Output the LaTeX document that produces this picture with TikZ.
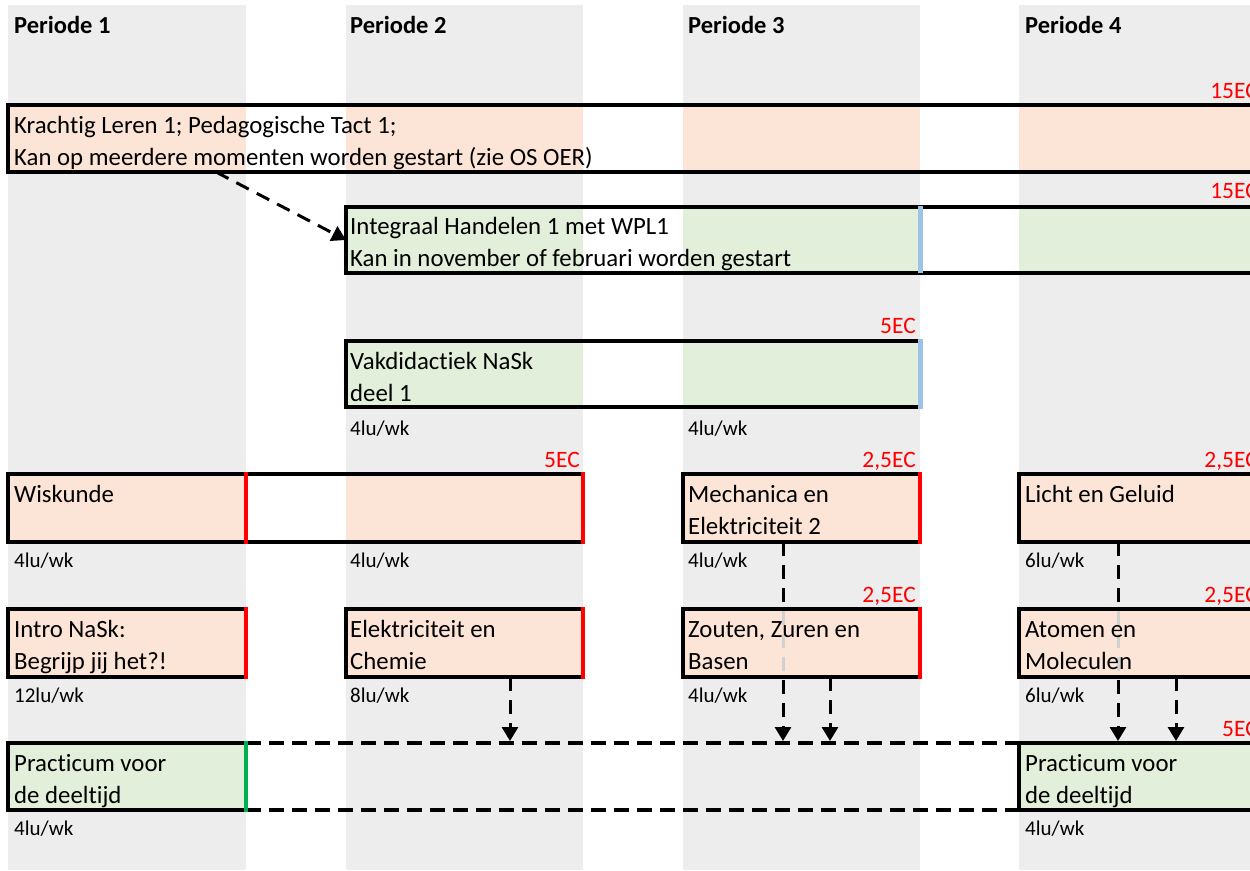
\documentclass[tikz,border=0pt]{standalone}
\usepackage{fontspec}
\setmainfont{Carlito}[Ligatures=NoCommon]
\usetikzlibrary{arrows.meta}
\definecolor{colgrey}{HTML}{EDEDED}
\definecolor{peach}{HTML}{FCE4D6}
\definecolor{lgreen}{HTML}{E2EFDA}
\definecolor{ecred}{HTML}{FF0000}
\definecolor{lblue}{HTML}{9DC3E6}
\definecolor{dgreen}{HTML}{00B050}
\begin{document}
\begin{tikzpicture}[x=1pt,y=-1pt,
  boxframe/.style={draw=black,line width=4pt,rectangle,inner sep=0pt,outer sep=0pt,anchor=north west},
  hdr/.style={anchor=base west,inner sep=0pt,font=\fontsize{24.5}{28}\selectfont\bfseries},
  txt/.style={anchor=base west,inner sep=0pt,font=\fontsize{24.8}{28}\selectfont},
  small/.style={anchor=base west,inner sep=0pt,font=\fontsize{21}{24}\selectfont},
  ec/.style={anchor=base east,inner sep=0pt,text=ecred,font=\fontsize{23.5}{26}\selectfont},
  dashline/.style={line width=3.5pt,dash pattern=on 15pt off 8pt},
  darr/.style={line width=3pt,dash pattern=on 14pt off 9pt,-{Triangle[width=16pt,length=14pt]}},
  redbar/.style={line width=4pt,draw=ecred},
]
\useasboundingbox (0,0) rectangle (1250,870);
\clip (0,0) rectangle (1250,870);
% grey columns
\foreach \a/\b in {8/246,346/583,683/920,1019/1262}
  \fill[colgrey] (\a,5) rectangle (\b,870);
% headers
\node[hdr] (h1) at (14,33) {Periode 1};
\node[hdr] (h2) at (350,33) {Periode 2};
\node[hdr] (h3) at (688,33) {Periode 3};
\node[hdr] (h4) at (1025,33) {Periode 4};

% ---------- fills -------------
% Krachtig
\fill[white] (8,105) rectangle (1262,172);
\foreach \a/\b in {8/246,346/583,683/920,1019/1262}
  \fill[peach] (\a,105) rectangle (\b,172);
% Integraal
\fill[white] (346,206.5) rectangle (1262,272.5);
\foreach \a/\b in {346/583,683/920,1019/1262}
  \fill[lgreen] (\a,206.5) rectangle (\b,272.5);
% Vakdidactiek
\fill[white] (346,341) rectangle (920,407);
\foreach \a/\b in {346/583,683/920}
  \fill[lgreen] (\a,341) rectangle (\b,407);
% Wiskunde
\fill[white] (8,474) rectangle (583,542);
\foreach \a/\b in {8/246,346/583}
  \fill[peach] (\a,474) rectangle (\b,542);
% other peach boxes
\fill[peach] (683,474) rectangle (920,542);
\fill[peach] (1019,474) rectangle (1262,542);
\fill[peach] (8,609) rectangle (246,677);
\fill[peach] (346,609) rectangle (583,677);
% practicum
\fill[lgreen] (8,743) rectangle (246,810);
\fill[lgreen] (1019,743) rectangle (1262,810);

% ---------- arrows that pass behind boxes -------------
\coordinate (t2) at (783,741);
\coordinate (t4) at (1118,741);
\draw[darr] (783,542) -- (t2);
\draw[darr] (1118,542) -- (t4);
% box fill over them, then a faint trace
\fill[peach] (683,609) rectangle (920,677);
\fill[peach] (1019,609) rectangle (1262,677);
\begin{scope}
  \clip (683,609) rectangle (1262,677);
  \draw[line width=3pt,dash pattern=on 14pt off 9pt,draw=black!18] (783,542) -- (783,728);
  \draw[line width=3pt,dash pattern=on 14pt off 9pt,draw=black!18] (1118,542) -- (1118,728);
\end{scope}

% ---------- frames -------------
\node[boxframe,minimum width=1254pt,minimum height=67pt] (kl) at (8,105) {};
\node[boxframe,minimum width=916pt,minimum height=66pt] (ih) at (346,206.5) {};
\node[boxframe,minimum width=574pt,minimum height=66pt] (vd) at (346,341) {};
\node[boxframe,minimum width=575pt,minimum height=68pt] (wi) at (8,474) {};
\node[boxframe,minimum width=237pt,minimum height=68pt] (me) at (683,474) {};
\node[boxframe,minimum width=243pt,minimum height=68pt] (lg) at (1019,474) {};
\node[boxframe,minimum width=238pt,minimum height=68pt] (in) at (8,609) {};
\node[boxframe,minimum width=237pt,minimum height=68pt] (ec) at (346,609) {};
\node[boxframe,minimum width=237pt,minimum height=68pt] (zo) at (683,609) {};
\node[boxframe,minimum width=243pt,minimum height=68pt] (at) at (1019,609) {};
\node[boxframe,minimum width=238pt,minimum height=67pt] (p1) at (8,743) {};
\node[boxframe,minimum width=243pt,minimum height=67pt] (p4) at (1019,743) {};
% dashed continuation of practicum
\draw[dashline] (p1.north east) -- (p4.north west);
\draw[dashline] (p1.south east) -- (p4.south west);

% coloured bars
\draw[line width=5pt,draw=lblue] (920,206) -- (920,273);
\draw[line width=5pt,draw=lblue] (920,339) -- (920,409);
\draw[redbar] (246,472) -- (246,544);
\draw[redbar] (583,472) -- (583,544);
\draw[redbar] (920,472) -- (920,544);
\draw[redbar] (246,607) -- (246,679);
\draw[redbar] (583,607) -- (583,679);
\draw[redbar] (920,607) -- (920,679);
\draw[line width=4pt,draw=dgreen] (246,741) -- (246,812);

% ---------- other arrows -------------
\coordinate (t1) at (510,741);
\coordinate (t3) at (830,741);
\coordinate (t5) at (1176,741);
\draw[darr] (ec.south -| 510,0) -- (t1);
\draw[darr] (zo.south -| 830,0) -- (t3);
\draw[darr] (at.south -| 1176,0) -- (t5);
\draw[darr] (kl.south -| 216,0) -- (ih.west |- 0,240);

% ---------- texts -------------
\node[ec] (e1) at (1258,98) {15EC};
\node[txt] (k1) at (14,133) {Krachtig Leren 1; Pedagogische Tact 1;};
\node[txt] (k2) at (14,165) {Kan op meerdere momenten worden gestart (zie OS OER)};
\node[ec] (e2) at (1258,198) {15EC};
\node[txt] (i1) at (350,234) {Integraal Handelen 1 met WPL1};
\node[txt] (i2) at (350,266) {Kan in november of februari worden gestart};
\node[ec] (e3) at (916,333) {5EC};
\node[txt] (v1) at (350,369) {Vakdidactiek NaSk};
\node[txt] (v2) at (350,401) {deel 1};
\node[small] (l1) at (350,435) {4lu/wk};
\node[small] (l2) at (688,435) {4lu/wk};
\node[ec] (e4) at (580,467) {5EC};
\node[ec] (e5) at (916,467) {2,5EC};
\node[ec] (e6) at (1258,467) {2,5EC};
\node[txt] (w1) at (14,502) {Wiskunde};
\node[txt] (m1) at (688,502) {Mechanica en};
\node[txt] (m2) at (688,534) {Elektriciteit 2};
\node[txt] (g1) at (1025,502) {Licht en Geluid};
\node[small] (l3) at (14,567) {4lu/wk};
\node[small] (l4) at (350,567) {4lu/wk};
\node[small] (l5) at (688,567) {4lu/wk};
\node[small] (l6) at (1025,567) {6lu/wk};
\node[ec] (e7) at (916,602) {2,5EC};
\node[ec] (e8) at (1258,602) {2,5EC};
\node[txt] (n1) at (14,637) {Intro NaSk:};
\node[txt] (n2) at (14,669) {Begrijp jij het?!};
\node[txt] (c1) at (350,637) {Elektriciteit en};
\node[txt] (c2) at (350,669) {Chemie};
\node[txt] (z1) at (688,637) {Zouten, Zuren en};
\node[txt] (z2) at (688,669) {Basen};
\node[txt] (a1) at (1025,637) {Atomen en};
\node[txt] (a2) at (1025,669) {Moleculen};
\node[small] (l7) at (14,702) {12lu/wk};
\node[small] (l8) at (350,702) {8lu/wk};
\node[small] (l9) at (688,702) {4lu/wk};
\node[small] (l10) at (1025,702) {6lu/wk};
\node[ec] (e9) at (1258,736) {5EC};
\node[txt] (p1a) at (14,771) {Practicum voor};
\node[txt] (p1b) at (14,803) {de deeltijd};
\node[txt] (p4a) at (1025,771) {Practicum voor};
\node[txt] (p4b) at (1025,803) {de deeltijd};
\node[small] (l11) at (14,835) {4lu/wk};
\node[small] (l12) at (1025,835) {4lu/wk};
\end{tikzpicture}
\end{document}
